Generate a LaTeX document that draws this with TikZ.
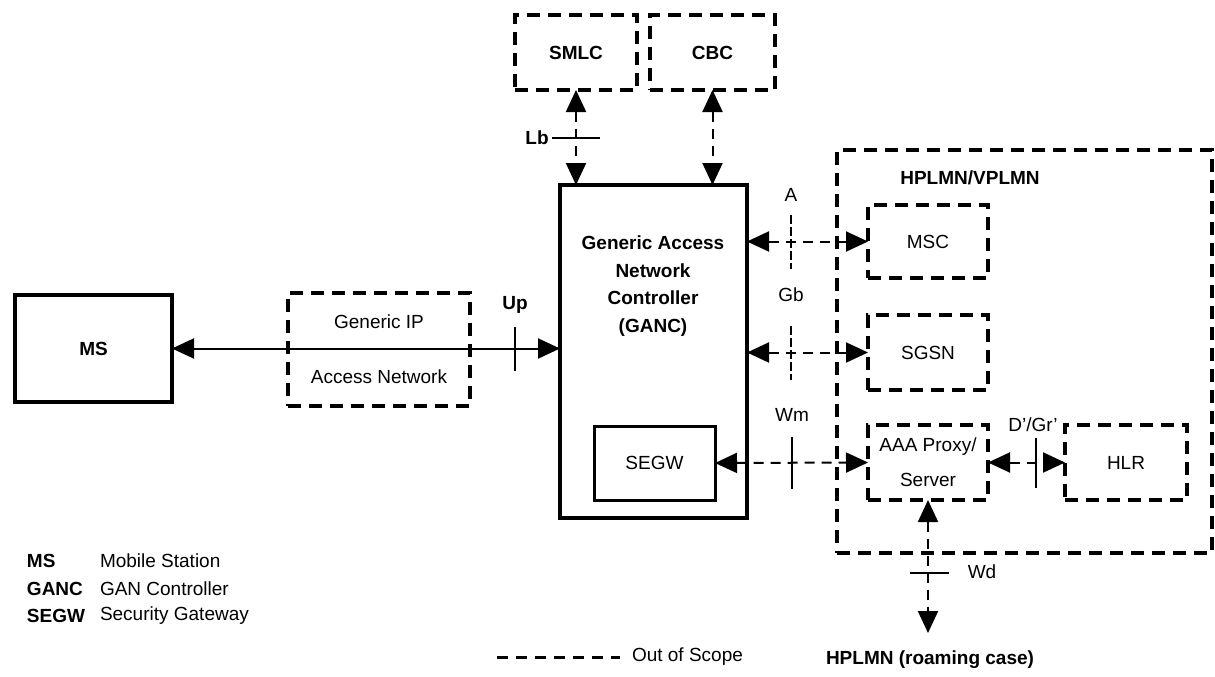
\documentclass[tikz,border=0pt]{standalone}
\usepackage{fontspec}
\setmainfont{Liberation Sans}
\usetikzlibrary{arrows.meta}

\begin{document}
\begin{tikzpicture}[x=1pt,y=-1pt,
  every node/.style={font=\fontsize{19}{23}\selectfont, inner sep=0pt, outer sep=0pt},
  bold/.style={font=\fontsize{19}{23}\selectfont\bfseries},
  solidbox/.style={draw, line width=3.5pt},
  oosbox/.style={draw, line width=3.5pt, dash pattern=on 13pt off 8pt},
  bigtip/.tip={Triangle[length=22pt,width=20pt]},
  link/.style={line width=2pt, arrows={bigtip-bigtip}},
  oolink/.style={link, dash pattern=on 10pt off 7pt},
  tickmark/.style={line width=2pt},
  dtick/.style={line width=1.6pt, dash pattern=on 9pt off 3pt},
]
\useasboundingbox (0,0) rectangle (1215,677);

% --- main elements
\node[solidbox, bold, minimum width=157pt, minimum height=107pt] (ms) at (93.5,348.5) {MS};
\node[oosbox, minimum width=182pt, minimum height=113pt, align=center] (gip) at (379,349.5)
  {Generic IP\\[32pt]Access Network};
\node[solidbox, line width=4pt, minimum width=187pt, minimum height=333pt] (ganc) at (653.5,351.5) {};
\node[font=\fontsize{19}{27.7}\selectfont\bfseries, align=center] (gtext) at (653,286)
  {Generic Access\\Network\\Controller\\(GANC)};
\node[solidbox, line width=3pt, minimum width=121pt, minimum height=74pt] (segw) at (654.5,463) {SEGW};
\node[oosbox, bold, minimum width=122pt, minimum height=75pt] (smlc) at (576,52.5) {SMLC};
\node[oosbox, bold, minimum width=125pt, minimum height=75pt] (cbc) at (712.5,52.5) {CBC};

% --- home / visited network
\node[oosbox, minimum width=375pt, minimum height=403pt] (hplmn) at (1024.5,351.5) {};
\node[bold] (hplmnlbl) at (970,178) {HPLMN/VPLMN};
\node[oosbox, minimum width=120pt, minimum height=73pt] (msc) at (928,241.5) {MSC};
\node[oosbox, minimum width=120pt, minimum height=75pt] (sgsn) at (928,352.5) {SGSN};
\node[oosbox, minimum width=120pt, minimum height=75pt, align=center] (aaa) at (928,462.5)
  {AAA Proxy/\\[12pt]Server};
\node[oosbox, minimum width=122pt, minimum height=75pt] (hlr) at (1126,462.5) {HLR};

% --- connectors
\draw[link] (ms.east) -- (ganc.west |- ms.east);
\draw[oolink] (smlc.south) -- (smlc.south |- ganc.north);
\draw[oolink] (cbc.south) -- (cbc.south |- ganc.north);
\draw[oolink] (ganc.east |- msc.west) -- (msc.west);
\draw[oolink] (ganc.east |- sgsn.west) -- (sgsn.west);
\draw[oolink] (segw.east) -- (aaa.west);
\draw[oolink] (aaa.east) -- (hlr.west);
\coordinate (wdend) at (928,633);
\draw[oolink] (aaa.south) -- (wdend);

% --- interface reference points
\coordinate (upx) at (515,349);
\draw[tickmark] ([yshift=22pt]upx) -- ([yshift=-22pt]upx);
\node[bold] (uplbl) at (515,305) {Up};

\coordinate (lbx) at (576,138);
\draw[tickmark] ([xshift=-24pt]lbx) -- ([xshift=24pt]lbx);
\node[bold] (lblbl) at (537,138) {Lb};

\coordinate (ax) at (791,241.5);
\draw[dtick] ([yshift=27pt]ax) -- ([yshift=-27pt]ax);
\node (albl) at (791,195) {A};

\coordinate (gbx) at (791,352.5);
\draw[dtick] ([yshift=27pt]gbx) -- ([yshift=-27pt]gbx);
\node (gblbl) at (791,295) {Gb};

\coordinate (wmx) at (792,463);
\draw[tickmark] ([yshift=26pt]wmx) -- ([yshift=-26pt]wmx);
\node (wmlbl) at (792,415) {Wm};

\coordinate (drx) at (1036,463);
\draw[tickmark] ([yshift=25pt]drx) -- ([yshift=-25pt]drx);
\node (drlbl) at (1033,425) {D'/Gr'};

\coordinate (wdx) at (928,573);
\draw[tickmark] ([xshift=-18pt]wdx) -- ([xshift=21pt]wdx);
\node (wdlbl) at (982,572) {Wd};

\node[bold] (roam) at (930,660) {HPLMN (roaming case)};

% --- legend
\coordinate (legA) at (497,657);
\coordinate (legB) at (620,657);
\draw[line width=3pt, dash pattern=on 11pt off 8pt] (legA) -- (legB);
\node[anchor=west] (oos) at (632,657) {Out of Scope};

\node[bold, anchor=west] (k1) at (27,561) {MS};
\node[bold, anchor=west] (k2) at (27,589) {GANC};
\node[bold, anchor=west] (k3) at (27,616) {SEGW};
\node[anchor=west] (v1) at (100,561) {Mobile Station};
\node[anchor=west] (v2) at (100,589) {GAN Controller};
\node[anchor=west] (v3) at (100,616) {Security Gateway};
\end{tikzpicture}
\end{document}
